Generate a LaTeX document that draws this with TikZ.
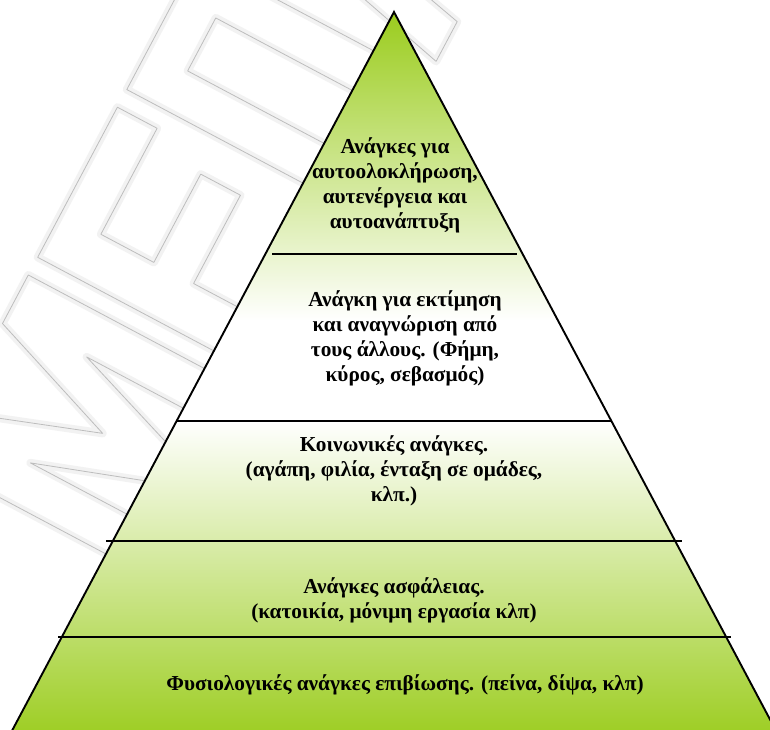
\documentclass[tikz,border=0pt]{standalone}
\usepackage{fontspec}
\setmainfont{Liberation Serif}[BoldFont={Liberation Serif Bold}]
\begin{document}
\begin{tikzpicture}[x=1pt,y=-1pt,
  lvl/.style={font=\bfseries\fontsize{21.3}{25}\selectfont, align=center, inner sep=0pt, text=black},
  tier/.style={line width=1.8pt, draw=black},
  wmhalo/.style={draw=black!5, line width=8pt, line join=round},
  wmline/.style={draw=black!26, line width=0.8pt, line join=round}]
\definecolor{leaf}{RGB}{154,204,28}
\fill[white] (0,0) rectangle (770,729);
\clip (0,0) rectangle (770,729);

% faint hollow watermark lettering, running along the left flank
\begin{scope}[shift={(150,600)}, x={(0.469pt,0.883pt)}, y={(-0.883pt,0.469pt)}]
  \foreach \s in {wmhalo,wmline}{
    \path[\s]
      (20,0) -- (20,260) -- (75,260) -- (125,120) -- (175,260) -- (230,260) -- (230,0)
        -- (185,0) -- (185,170) -- (140,40) -- (110,40) -- (65,170) -- (65,0) -- cycle
      (250,0) -- (420,0) -- (420,45) -- (300,45) -- (300,110) -- (400,110) -- (400,155)
        -- (300,155) -- (300,215) -- (420,215) -- (420,260) -- (250,260) -- cycle
      (440,0) -- (440,260) -- (590,260) -- (590,0) -- (545,0) -- (545,215) -- (485,215)
        -- (485,0) -- cycle
      (610,0) -- (670,260) -- (720,260) -- (780,0) -- (735,0) -- (722,60) -- (668,60)
        -- (655,0) -- cycle
      (675,105) -- (715,105) -- (695,195) -- cycle;
  }
\end{scope}

% pyramid body
\coordinate (apex) at (394,12);
\coordinate (bl) at (6,742);
\coordinate (br) at (782,742);
\begin{scope}
  \clip (apex) -- (bl) -- (br) -- cycle;
  \shade[top color=leaf, bottom color=white] (0,10) rectangle (770,321);
  \fill[white] (0,320) rectangle (770,421);
  \shade[top color=white, bottom color=leaf] (0,420) rectangle (770,745);
\end{scope}
\draw[line width=1.9pt, line join=miter] (bl) -- (apex) -- (br);

% tier separators
\draw[tier] (272,254) -- (517,254);
\draw[tier] (177,421) -- (612,421);
\draw[tier] (106,541) -- (682,541);
\draw[tier] (58,637) -- (731,637);

% tier labels
\node[lvl] (self) at (395,185) {Ανάγκες για\\αυτοολοκλήρωση,\\αυτενέργεια και\\αυτοανάπτυξη};
\node[lvl] (esteem) at (405,338) {Ανάγκη για εκτίμηση\\και αναγνώριση από\\τους άλλους. (Φήμη,\\κύρος, σεβασμός)};
\node[lvl] (social) at (394,471) {Κοινωνικές ανάγκες.\\(αγάπη, φιλία, ένταξη σε ομάδες,\\κλπ.)};
\node[lvl] (safety) at (394,600) {Ανάγκες ασφάλειας.\\(κατοικία, μόνιμη εργασία κλπ)};
\node[lvl] (phys) at (405,685) {Φυσιολογικές ανάγκες επιβίωσης. (πείνα, δίψα, κλπ)};
\end{tikzpicture}
\end{document}
